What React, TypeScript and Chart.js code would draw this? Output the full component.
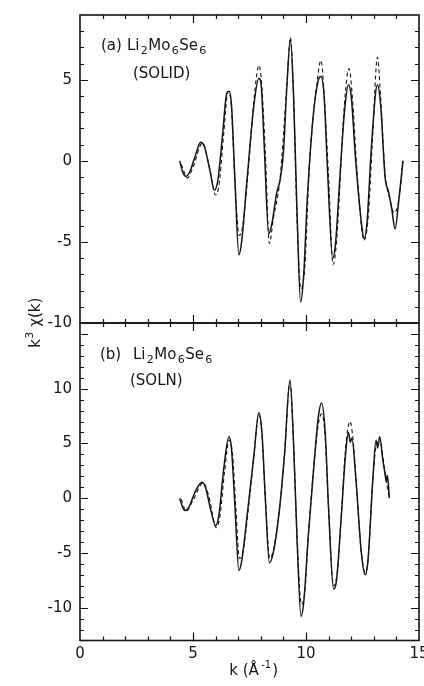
import React, { useEffect, useRef } from 'react';
import { Chart, registerables } from 'chart.js';

Chart.register(...registerables);

const W = 424;
const H = 686;
const FONT = '"DejaVu Sans", "Liberation Sans", sans-serif';
const INK = '#151515';

// x axis (k, 1/Angstrom)
const kMin = 0;
const kMax = 15;
const kTicks = [0, 5, 10, 15];

// panel (a) Li2Mo6Se6 solid
const yRangeA = [-10, 9];
const yTicksA = [-10, -5, 0, 5];
const kSolidA = [4.41, 4.55, 4.68, 4.85, 5.1, 5.34, 5.5, 5.75, 5.95, 6.1, 6.3, 6.5, 6.6, 6.7, 6.85, 7.03, 7.15, 7.4, 7.7, 7.91, 8.0, 8.15, 8.35, 8.5, 8.7, 8.85, 9.0, 9.15, 9.31, 9.45, 9.6, 9.76, 9.9, 10.05, 10.15, 10.35, 10.55, 10.66, 10.8, 10.95, 11.18, 11.3, 11.5, 11.7, 11.88, 12.0, 12.2, 12.45, 12.57, 12.7, 12.9, 13.16, 13.3, 13.5, 13.65, 13.8, 13.94, 14.1, 14.29];
const ySolidA = [0.0, -0.7, -0.95, -0.7, 0.3, 1.15, 0.9, -0.6, -1.8, -1.2, 1.5, 4.2, 4.3, 3.5, -1.0, -5.8, -5.0, -1.0, 3.5, 5.1, 4.9, 1.0, -4.5, -3.8, -2.0, -1.2, 0.5, 4.5, 7.5, 4.0, -3.0, -8.7, -7.0, -2.5, -0.2, 3.2, 5.0, 5.2, 4.0, -0.5, -6.0, -5.2, -1.0, 3.0, 4.7, 4.0, 0.0, -3.8, -4.8, -3.8, 1.0, 4.7, 3.5, -1.0, -1.9, -3.0, -4.2, -2.5, 0.0];
const kDashA = [4.48, 4.75, 5.0, 5.42, 5.7, 6.0, 6.15, 6.35, 6.55, 6.7, 6.85, 7.05, 7.2, 7.45, 7.7, 7.92, 8.05, 8.2, 8.38, 8.55, 8.85, 9.15, 9.31, 9.45, 9.6, 9.78, 9.95, 10.15, 10.5, 10.66, 10.8, 11.0, 11.2, 11.35, 11.7, 11.9, 12.05, 12.25, 12.57, 12.75, 12.95, 13.16, 13.3, 13.5, 13.7, 13.9, 14.1, 14.3];
const yDashA = [-0.2, -1.05, -0.4, 1.1, -0.2, -2.1, -1.5, 1.5, 4.3, 3.3, -1.2, -4.6, -4.0, -0.5, 3.8, 5.9, 4.5, 0.5, -5.1, -3.6, -1.1, 4.6, 7.6, 4.0, -3.5, -7.9, -6.5, -0.3, 5.0, 6.2, 4.2, -1.0, -6.4, -5.0, 3.5, 5.7, 4.0, -0.5, -4.9, -3.5, 1.5, 6.4, 4.0, -0.8, -2.3, -3.2, -2.5, 0.0];

// panel (b) Li2Mo6Se6 solution
const yRangeB = [-13, 16];
const yTicksB = [-10, -5, 0, 5, 10];
const kSolidB = [4.41, 4.55, 4.63, 4.8, 5.1, 5.4, 5.55, 5.8, 6.0, 6.15, 6.35, 6.59, 6.7, 6.85, 7.03, 7.15, 7.4, 7.7, 7.91, 8.05, 8.2, 8.38, 8.55, 8.8, 9.05, 9.29, 9.45, 9.6, 9.78, 9.9, 10.1, 10.35, 10.55, 10.69, 10.85, 11.0, 11.22, 11.35, 11.55, 11.75, 11.88, 11.96, 12.03, 12.2, 12.45, 12.62, 12.75, 12.95, 13.1, 13.17, 13.26, 13.4, 13.5, 13.55, 13.6, 13.69];
const ySolidB = [0.0, -0.9, -1.13, -0.9, 0.6, 1.46, 1.0, -1.2, -2.5, -1.5, 2.5, 5.6, 4.6, -0.5, -6.6, -5.8, -1.5, 4.0, 7.8, 6.0, 0.0, -5.9, -5.0, -1.5, 4.0, 10.8, 5.0, -3.5, -10.8, -9.5, -3.5, 3.0, 7.5, 8.7, 6.0, -1.0, -8.3, -7.5, -2.0, 4.0, 6.0, 5.1, 5.5, 2.0, -5.0, -7.0, -5.5, 1.5, 5.3, 4.6, 5.6, 3.5, 2.2, 1.5, 2.1, 0.0];
const kDashB = [4.48, 4.7, 5.0, 5.45, 5.7, 6.03, 6.2, 6.4, 6.6, 6.75, 6.9, 7.05, 7.2, 7.45, 7.7, 7.91, 8.05, 8.2, 8.4, 8.55, 8.8, 9.05, 9.29, 9.45, 9.6, 9.8, 9.95, 10.1, 10.35, 10.55, 10.7, 10.85, 11.0, 11.22, 11.4, 11.55, 11.75, 11.94, 12.1, 12.2, 12.45, 12.62, 12.75, 12.95, 13.15, 13.3, 13.45, 13.6, 13.69];
const yDashB = [-0.1, -1.2, -0.2, 1.4, 0.2, -2.7, -1.5, 2.5, 5.3, 4.0, -1.0, -5.5, -5.0, -1.0, 4.0, 7.6, 5.8, 0.0, -5.5, -4.8, -1.5, 4.0, 10.6, 5.0, -3.5, -9.7, -8.5, -3.5, 3.0, 6.8, 7.7, 5.5, -1.0, -8.0, -6.5, -2.0, 4.5, 7.0, 5.0, 2.0, -5.0, -6.8, -5.5, 1.5, 5.1, 5.0, 3.0, 1.0, 0.0];

type Run = [string, number, number];

function drawRuns(ctx: CanvasRenderingContext2D, x: number, y: number, runs: Run[], spacing = 0.6) {
  let cx = x;
  for (const [t, size, dy] of runs) {
    ctx.font = `${size}px ${FONT}`;
    ctx.fillText(t, cx, y + dy);
    cx += ctx.measureText(t).width + spacing * t.length;
  }
  return cx - x;
}

function runsWidth(ctx: CanvasRenderingContext2D, runs: Run[], spacing = 0.6) {
  let w = 0;
  for (const [t, size] of runs) {
    ctx.font = `${size}px ${FONT}`;
    w += ctx.measureText(t).width + spacing * t.length;
  }
  return w;
}

const formula: Run[] = [['Li', 15, 0], ['2', 11, 4], ['Mo', 15, 0], ['6', 11, 4], ['Se', 15, 0], ['6', 11, 4]];

const framePlugin = {
  id: 'frameTicks',
  afterDraw(chart: any) {
    const { ctx, chartArea: a, scales } = chart;
    const xs = scales.x;
    const ys = scales.y;
    ctx.save();
    ctx.strokeStyle = INK;
    ctx.lineWidth = 1.6;
    ctx.strokeRect(a.left, a.top, a.right - a.left, a.bottom - a.top);
    ctx.lineWidth = 1.2;
    ctx.beginPath();
    for (let v = kMin + 1; v < kMax; v++) {
      const px = Math.round(xs.getPixelForValue(v)) + 0.5;
      const len = v % 5 === 0 ? 8 : 4;
      ctx.moveTo(px, a.bottom);
      ctx.lineTo(px, a.bottom - len);
      ctx.moveTo(px, a.top);
      ctx.lineTo(px, a.top + len);
    }
    for (let v = Math.ceil(ys.min); v <= ys.max; v++) {
      const py = Math.round(ys.getPixelForValue(v)) + 0.5;
      if (py < a.top + 1 || py > a.bottom - 1) continue;
      const len = v % 5 === 0 ? 8 : 4;
      ctx.moveTo(a.left, py);
      ctx.lineTo(a.left + len, py);
      ctx.moveTo(a.right, py);
      ctx.lineTo(a.right - len, py);
    }
    ctx.stroke();
    ctx.restore();
  },
};

const textPluginA = {
  id: 'textA',
  afterDraw(chart: any) {
    const ctx: CanvasRenderingContext2D = chart.ctx;
    ctx.save();
    ctx.fillStyle = INK;
    ctx.textBaseline = 'alphabetic';
    ctx.textAlign = 'left';
    drawRuns(ctx, 101, 50, [['(a)', 15, 0]]);
    drawRuns(ctx, 127, 50, formula);
    drawRuns(ctx, 133, 78, [['(SOLID)', 15, 0]]);
    // y axis title, rotated, centred on the panel boundary
    const ttl: Run[] = [['k', 15, 0], ['3', 11, -7], [' χ(k)', 15, 0]];
    ctx.translate(40, 322);
    ctx.rotate(-Math.PI / 2);
    const w = runsWidth(ctx, ttl, 0.3);
    drawRuns(ctx, -w / 2, 0, ttl, 0.3);
    ctx.restore();
  },
};

const textPluginB = {
  id: 'textB',
  afterDraw(chart: any) {
    const ctx: CanvasRenderingContext2D = chart.ctx;
    ctx.save();
    ctx.fillStyle = INK;
    ctx.textBaseline = 'alphabetic';
    ctx.textAlign = 'left';
    drawRuns(ctx, 100, 359, [['(b)', 15, 0]]);
    drawRuns(ctx, 133, 359, formula);
    drawRuns(ctx, 130, 385, [['(SOLN)', 15, 0]]);
    const ttl: Run[] = [['k (Å', 15, 0], ['-1', 10, -7], [')', 15, 0]];
    const w = runsWidth(ctx, ttl, 0.6);
    drawRuns(ctx, 254 - w / 2, 675, ttl, 0.6);
    ctx.restore();
  },
};

function pts(k: number[], y: number[]) {
  return k.map((v, i) => ({ x: v, y: y[i] }));
}

function makeConfig(opts: {
  solid: { x: number; y: number }[];
  dashed: { x: number; y: number }[];
  yRange: number[];
  yTicks: number[];
  top: number;
  bottom: number;
  showX: boolean;
  text: any;
}): any {
  const tickFont = { family: FONT, size: 15 };
  return {
    type: 'line',
    data: {
      datasets: [
        {
          data: opts.solid,
          borderColor: INK,
          borderWidth: 1.5,
          pointRadius: 0,
          fill: false,
          cubicInterpolationMode: 'monotone',
        },
        {
          data: opts.dashed,
          borderColor: INK,
          borderWidth: 1.1,
          borderDash: [4, 3],
          pointRadius: 0,
          fill: false,
          cubicInterpolationMode: 'monotone',
        },
      ],
    },
    options: {
      responsive: false,
      animation: false,
      events: [],
      layout: { padding: { top: opts.top, right: 5, left: 0, bottom: opts.showX ? 0 : H - opts.bottom } },
      plugins: { legend: { display: false }, tooltip: { enabled: false } },
      scales: {
        x: {
          type: 'linear',
          min: kMin,
          max: kMax,
          display: opts.showX,
          grid: { display: false, drawTicks: false },
          border: { display: false },
          afterBuildTicks: (s: any) => {
            s.ticks = kTicks.map((v) => ({ value: v }));
          },
          afterFit: (s: any) => {
            s.height = opts.showX ? H - opts.bottom : 0;
            s.paddingLeft = 0;
            s.paddingRight = 0;
          },
          ticks: { color: INK, font: tickFont, padding: 5, maxRotation: 0, autoSkip: false },
        },
        y: {
          type: 'linear',
          min: opts.yRange[0],
          max: opts.yRange[1],
          grid: { display: false, drawTicks: false },
          border: { display: false },
          afterBuildTicks: (s: any) => {
            s.ticks = opts.yTicks.map((v) => ({ value: v }));
          },
          afterFit: (s: any) => {
            s.width = 80;
            s.paddingTop = 0;
            s.paddingBottom = 0;
          },
          ticks: { color: INK, font: tickFont, padding: 8, autoSkip: false },
        },
      },
    },
    plugins: [framePlugin, opts.text],
  };
}

export default function App() {
  const refA = useRef<HTMLCanvasElement>(null);
  const refB = useRef<HTMLCanvasElement>(null);

  useEffect(() => {
    const a = new Chart(
      refA.current as HTMLCanvasElement,
      makeConfig({
        solid: pts(kSolidA, ySolidA),
        dashed: pts(kDashA, yDashA),
        yRange: yRangeA,
        yTicks: yTicksA,
        top: 15,
        bottom: 323,
        showX: false,
        text: textPluginA,
      })
    );
    const b = new Chart(
      refB.current as HTMLCanvasElement,
      makeConfig({
        solid: pts(kSolidB, ySolidB),
        dashed: pts(kDashB, yDashB),
        yRange: yRangeB,
        yTicks: yTicksB,
        top: 323,
        bottom: 640.5,
        showX: true,
        text: textPluginB,
      })
    );
    return () => {
      a.destroy();
      b.destroy();
    };
  }, []);

  const cs: React.CSSProperties = { position: 'absolute', left: 0, top: 0, width: W, height: H };
  return (
    <div style={{ position: 'fixed', left: 0, top: 0, width: W, height: H, background: '#fff', overflow: 'hidden' }}>
      <canvas ref={refB} width={W} height={H} style={cs} />
      <canvas ref={refA} width={W} height={H} style={cs} />
    </div>
  );
}
